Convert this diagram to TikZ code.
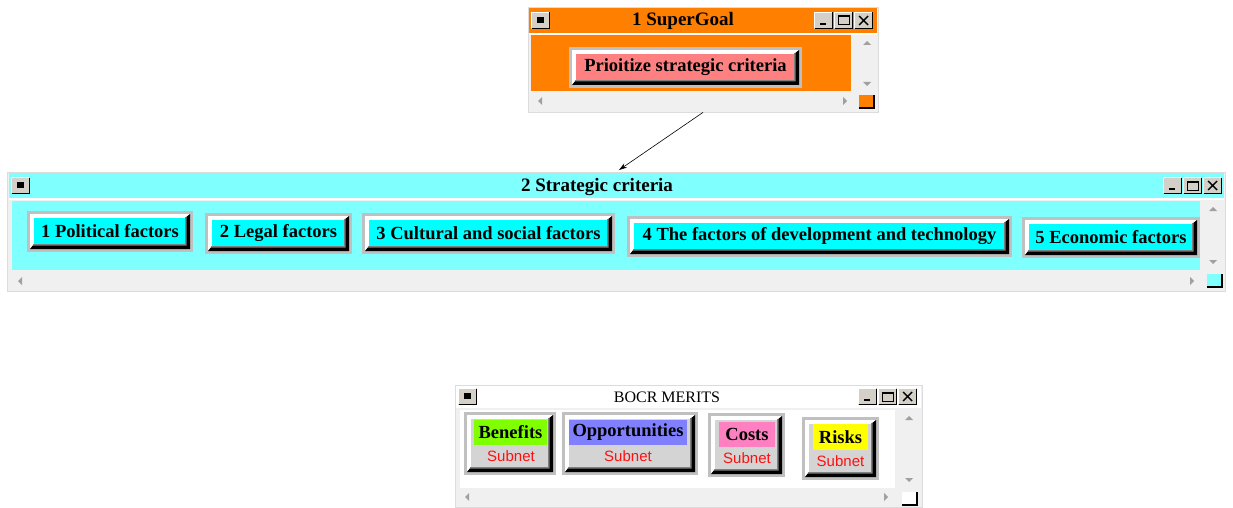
\documentclass[tikz,border=0pt]{standalone}
\usepackage{fontspec}
\setmainfont{Liberation Serif}
\newfontfamily\sansf{Liberation Sans}
\usetikzlibrary{arrows.meta,calc}
\definecolor{orangeA}{HTML}{FF8000}
\definecolor{pinkbtn}{HTML}{FF8080}
\definecolor{lcyan}{HTML}{80FFFF}
\definecolor{cyanA}{HTML}{00FFFF}
\definecolor{bordergray}{HTML}{C0C0C0}
\definecolor{framegray}{HTML}{F0F0F0}
\definecolor{frameline}{HTML}{DCDCDC}
\definecolor{btngray}{HTML}{D4D0C8}
\definecolor{arrgray}{HTML}{A0A0A0}
\definecolor{innergray}{HTML}{D4D4D4}
\definecolor{greenA}{HTML}{80FF00}
\definecolor{blueA}{HTML}{8080FF}
\definecolor{pinkA}{HTML}{FF80C0}
\definecolor{yellowA}{HTML}{FFFF00}
\definecolor{redA}{HTML}{FF1010}
\newcommand\bfnt{\fontsize{18.5}{20}\selectfont\bfseries}
\newcommand\tbtn[2]{%
  \fill[btngray] (#1,#2) rectangle ++(19,17);
  \draw[white,line width=1pt] (#1+0.5,#2+16) -- (#1+0.5,#2+0.5) -- (#1+18,#2+0.5);
  \draw[black,line width=1pt] (#1+0.5,#2+16.5) -- (#1+18.5,#2+16.5) -- (#1+18.5,#2+0.5);
}
\newcommand\menubox[2]{\tbtn{#1}{#2}\fill[black] (#1+6,#2+5) rectangle ++(7,6);}
\newcommand\winctl[2]{%
  \tbtn{#1}{#2}\fill[black] (#1+6,#2+11) rectangle ++(6,2.2);
  \tbtn{#1+20}{#2}\draw[black,line width=1pt] (#1+24,#2+4) rectangle ++(11,9);
  \fill[black] (#1+24,#2+3.5) rectangle ++(11,2);
  \tbtn{#1+40}{#2}\draw[black,line width=1.4pt] (#1+45,#2+4) -- ++(9,9) (#1+54,#2+4) -- ++(-9,9);
}
\newcommand\uparr[2]{\fill[arrgray] (#1-4,#2+2) -- (#1+4,#2+2) -- (#1,#2-2) -- cycle;}
\newcommand\dnarr[2]{\fill[arrgray] (#1-4,#2-2) -- (#1+4,#2-2) -- (#1,#2+2) -- cycle;}
\newcommand\lfarr[2]{\fill[arrgray] (#1+2,#2-4) -- (#1+2,#2+4) -- (#1-2,#2) -- cycle;}
\newcommand\rtarr[2]{\fill[arrgray] (#1-2,#2-4) -- (#1-2,#2+4) -- (#1+2,#2) -- cycle;}
\newcommand\cornerbox[3]{%
  \fill[#3] (#1,#2) rectangle ++(15,13);
  \draw[black,line width=1.2pt] (#1,#2+13) -- ++(15,0) -- ++(0,-13);
}
\tikzset{
  winframe/.style={rectangle, fill=framegray, draw=frameline, line width=0.8pt, inner sep=0pt},
  btn/.style={rectangle, fill=bordergray, inner sep=0pt, text=black, font=\bfnt,
    path picture={
      \fill[white] let \p1=(path picture bounding box.north west), \p2=(path picture bounding box.south east) in
        (\x1+3pt,\y1-3pt) rectangle (\x2-3pt,\y2+3pt);
      \fill[black] let \p1=(path picture bounding box.north west), \p2=(path picture bounding box.south east) in
        (\x2-3pt,\y2+3pt) -- (\x2-3pt,\y1-3pt) -- (\x2-8pt,\y1-7pt) -- (\x2-8pt,\y2+8pt)
        -- (\x1+7pt,\y2+8pt) -- (\x1+3pt,\y2+3pt) -- cycle;
      \fill[gray] let \p1=(path picture bounding box.north west), \p2=(path picture bounding box.south east) in
        (\x2-6.5pt,\y2+6.5pt) -- (\x2-6.5pt,\y1-6pt) -- (\x2-8pt,\y1-7pt) -- (\x2-8pt,\y2+8pt)
        -- (\x1+7pt,\y2+8pt) -- (\x1+6pt,\y2+6.5pt) -- cycle;
      \fill[#1] let \p1=(path picture bounding box.north west), \p2=(path picture bounding box.south east) in
        (\x1+7pt,\y1-7pt) rectangle (\x2-8pt,\y2+8pt);
    }},
  hdr/.style={rectangle, inner sep=0pt, font=\bfnt, text=black, minimum height=25pt, fill=#1},
  subnet/.style={inner sep=0pt, font=\sansf\fontsize{15}{16}\selectfont, text=redA},
  wtitle/.style={inner sep=0pt, font=\fontsize{19}{20}\selectfont\bfseries, text=black}
}
\begin{document}
\begin{tikzpicture}[x=1pt,y=-1pt]
\useasboundingbox[fill=white] (0,0) rectangle (1233,508);

% ---------- Window 1 : SuperGoal ----------
\node[winframe, minimum width=350pt, minimum height=105pt] (win1) at (703,59.5) {};
\fill[orangeA] (529,8) rectangle (877,33);
\fill[white] (529,33) rectangle (877,35);
\fill[orangeA] (531,35) rectangle (851,91);
\menubox{531}{12}
\winctl{814}{12}
\node[wtitle] (t1) at (683,21) {1 SuperGoal};
\uparr{867}{43}\dnarr{867}{84}
\lfarr{540}{101}\rtarr{845}{101}
\cornerbox{859}{95}{orangeA}
\node[btn=pinkbtn, minimum width=233pt, minimum height=41pt] (sg) at (685.5,67.5) {Prioitize strategic criteria};

% ---------- Window 2 : Strategic criteria ----------
\node[winframe, minimum width=1218pt, minimum height=119pt] (win2) at (616.5,231.5) {};
\fill[lcyan] (9,173) rectangle (1224,198);
\fill[white] (9,198) rectangle (1224,200);
\fill[lcyan] (12,201) rectangle (1200,270);
\menubox{11}{177}
\winctl{1163}{177}
\node[wtitle] (t2) at (597,187) {2 Strategic criteria};
\uparr{1213}{209}\dnarr{1213}{262}
\lfarr{20}{281}\rtarr{1192}{281}
\cornerbox{1207}{274}{lcyan}
\node[btn=cyanA, minimum width=166pt, minimum height=41pt] (c1) at (110,231.5) {1 Political factors};
\node[btn=cyanA, minimum width=147pt, minimum height=41pt] (c2) at (278.5,233.5) {2 Legal factors};
\node[btn=cyanA, minimum width=253pt, minimum height=41pt] (c3) at (488.5,233.5) {3 Cultural and social factors};
\node[btn=cyanA, minimum width=385pt, minimum height=41pt] (c4) at (819.5,236.5) {4 The factors of development and technology};
\node[btn=cyanA, minimum width=178pt, minimum height=41pt] (c5) at (1111,237.5) {5 Economic factors};

% ---------- Window 3 : BOCR MERITS ----------
\node[winframe, minimum width=467pt, minimum height=122pt] (win3) at (688.5,446) {};
\fill[white] (456,386) rectangle (921,408);
\fill[white] (460,410) rectangle (895,488);
\menubox{458}{388}
\winctl{858}{388}
\node[inner sep=0pt, font=\fontsize{16}{18}\selectfont, text=black] (t3) at (667,397) {BOCR MERITS};
\uparr{909}{418}\dnarr{909}{480}
\lfarr{467}{497}\rtarr{886}{497}
\cornerbox{902}{492}{white}

\node[btn=innergray, minimum width=92pt, minimum height=63pt] (ben) at (510,443.5) {};
\node[hdr=greenA, minimum width=73pt] (benh) at (510.5,432.5) {Benefits};
\node[subnet] (bens) at (511,456) {Subnet};

\node[btn=innergray, minimum width=136pt, minimum height=63pt] (opp) at (630,443.5) {};
\node[hdr=blueA, minimum width=118pt] (opph) at (628,432.5) {Opportunities};
\node[subnet] (opps) at (628,456) {Subnet};

\node[btn=innergray, minimum width=77pt, minimum height=64pt] (cos) at (746.5,445) {};
\node[hdr=pinkA, minimum width=56pt] (cosh) at (747,434.5) {Costs};
\node[subnet] (coss) at (747,458.5) {Subnet};

\node[btn=innergray, minimum width=77pt, minimum height=63pt] (ris) at (840.5,448.5) {};
\node[hdr=yellowA, minimum width=55pt, minimum height=26pt] (rish) at (840.5,437) {Risks};
\node[subnet] (riss) at (840.5,461) {Subnet};

% ---------- connector ----------
\coordinate (a2) at (619,170);
\draw[black, line width=0.6pt, -{Stealth[length=8pt,width=5pt]}] (win1.south) -- (a2);
\end{tikzpicture}
\end{document}
